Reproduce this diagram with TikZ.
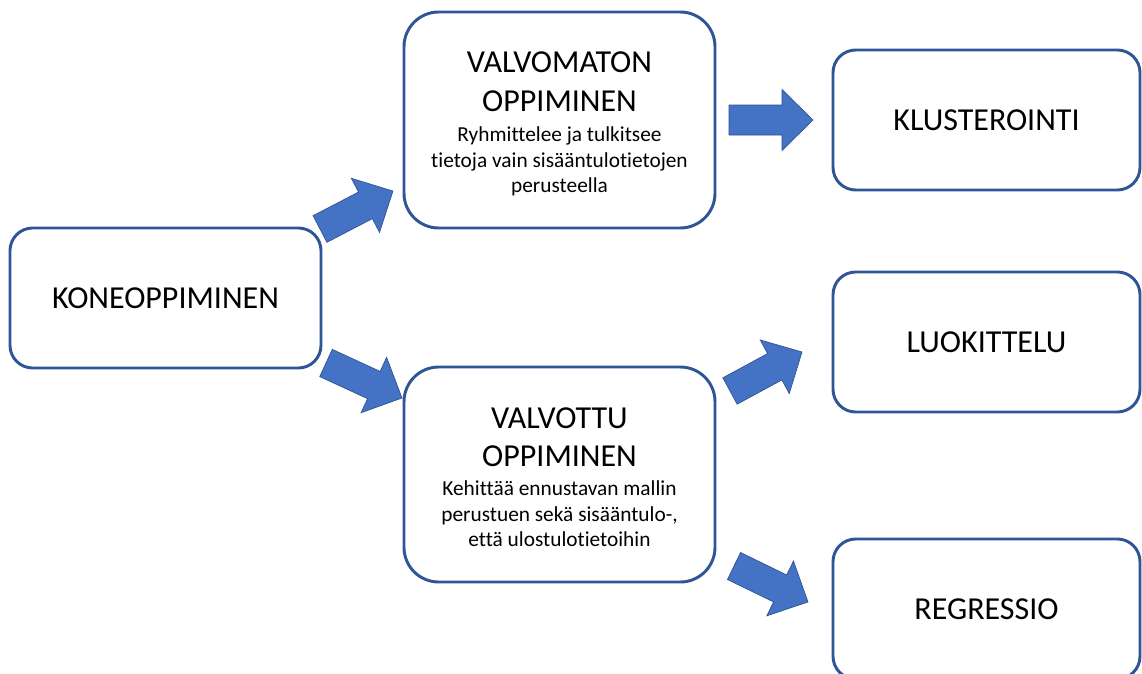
\documentclass[tikz,border=0pt]{standalone}
\usepackage{fontspec}
\setmainfont{Carlito}[Ligatures={NoCommon}]
\usetikzlibrary{calc}
\definecolor{boxblue}{HTML}{2F5597}
\definecolor{arrfill}{HTML}{4472C4}
\definecolor{arredge}{HTML}{2F528F}
\tikzset{
  box/.style={draw=boxblue, line width=2.2pt, fill=white, rounded corners=#1,
    inner sep=0pt, font=\fontsize{24}{29}\selectfont},
  box/.default=17pt,
  smallbox/.style={box, minimum width=230.25pt, minimum height=105pt},
  bigbox/.style={box=26pt, minimum width=233.25pt, minimum height=162pt},
  titletext/.style={anchor=base, inner sep=0pt, font=\fontsize{24}{29}\selectfont},
  subtext/.style={anchor=base, inner sep=0pt, font=\fontsize{16}{19}\selectfont},
  fatarrow/.style={fill=arrfill, draw=arredge, line width=0.5pt, line join=miter}
}
\newcommand\fatarrow[2]{%
  \pgfpointdiff{\pgfpointanchor{#1}{center}}{\pgfpointanchor{#2}{center}}%
  \pgfgetlastxy\fdx\fdy
  \pgfmathsetmacro\fang{atan2(\fdy,\fdx)}%
  \pgfmathsetmacro\flen{veclen(\fdx,\fdy)/0.75}%
  \begin{scope}[shift={(#1)}, rotate=\fang, x=0.75pt, y=0.75pt]
    \filldraw[fatarrow] (0,-15) -- ({\flen-31},-15) -- ({\flen-31},-30.5)
      -- (\flen,0) -- ({\flen-31},30.5) -- ({\flen-31},15) -- (0,15) -- cycle;
  \end{scope}}
\begin{document}
\begin{tikzpicture}[x=0.75pt, y=-0.75pt]
\useasboundingbox[fill=white] (0,0) rectangle (1142,674);

% boxes
\node[box, minimum width=233.25pt, minimum height=105pt] (kone) at (165.5,298) {KONEOPPIMINEN};
\node[bigbox] (valvomaton) at (559.5,120) {};
\node[bigbox, minimum height=161.25pt] (valvottu) at (559.5,474.5) {};
\node[smallbox] (klust) at (986.5,120) {KLUSTEROINTI};
\node[smallbox] (luok) at (986.5,342) {LUOKITTELU};
\node[smallbox] (regr) at (986.5,609) {REGRESSIO};

% texts of the two middle boxes
\node[titletext] (vm1) at (559.5,73) {VALVOMATON};
\node[titletext] (vm2) at (559.5,111) {OPPIMINEN};
\node[subtext] (vm3) at (559.5,142) {Ryhmittelee ja tulkitsee};
\node[subtext] (vm4) at (559.5,167) {tietoja vain sisääntulotietojen};
\node[subtext] (vm5) at (559.5,192.5) {perusteella};

\node[titletext] (vt1) at (559.5,428) {VALVOTTU};
\node[titletext] (vt2) at (559.5,466.5) {OPPIMINEN};
\node[subtext] (vt3) at (559.5,495) {Kehittää ennustavan mallin};
\node[subtext] (vt4) at (559.5,521) {perustuen sekä sisääntulo-,};
\node[subtext] (vt5) at (559.5,546.5) {että ulostulotietoihin};

% arrow end points
\coordinate (a1s) at (320,229);  \coordinate (a1e) at (393,191);
\coordinate (a2s) at (326,363);  \coordinate (a2e) at (402,398);
\coordinate (a3s) at (729,120);  \coordinate (a3e) at (813,120);
\coordinate (a4s) at (730,391);  \coordinate (a4e) at (802,352);
\coordinate (a5s) at (734,566);  \coordinate (a5e) at (808,602);

\fatarrow{a1s}{a1e}
\fatarrow{a2s}{a2e}
\fatarrow{a3s}{a3e}
\fatarrow{a4s}{a4e}
\fatarrow{a5s}{a5e}
\end{tikzpicture}
\end{document}
